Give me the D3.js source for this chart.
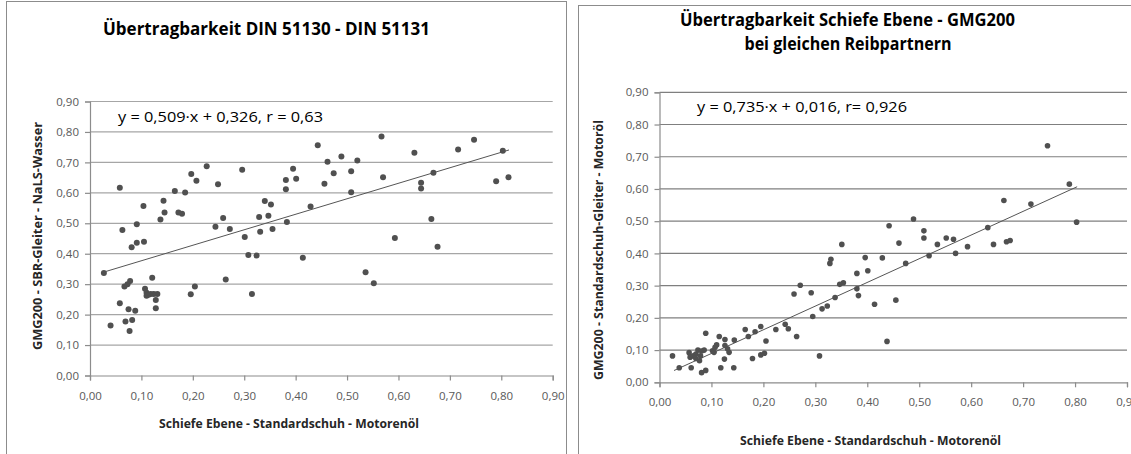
<!DOCTYPE html>
<html><head><meta charset="utf-8">
<script src="https://cdn.jsdelivr.net/npm/d3@7"></script>
<style>body{margin:0;background:#fff} svg{display:block}</style>
</head><body>
<svg id="c" width="1131" height="454"></svg>
<script>
// ---------- data ----------
const tickValues = [0, 0.1, 0.2, 0.3, 0.4, 0.5, 0.6, 0.7, 0.8, 0.9];
const tickLabels = ["0,00","0,10","0,20","0,30","0,40","0,50","0,60","0,70","0,80","0,90"];

const leftTitle = ["Übertragbarkeit DIN 51130 - DIN 51131"];
const leftXTitle = "Schiefe Ebene - Standardschuh - Motorenöl";
const leftYTitle = "GMG200 - SBR-Gleiter - NaLS-Wasser";
const leftEquation = "y = 0,509·x + 0,326, r = 0,63";
const leftFit = [0.509, 0.326];        // slope, intercept
const leftFitRange = [0.027, 0.815];
const leftX = [0.027,0.040,0.058,0.058,0.063,0.067,0.069,0.073,0.075,0.077,0.078,0.081,0.082,0.088,0.091,0.091,0.104,0.105,0.107,0.110,0.110,0.114,0.118,0.121,0.124,0.131,0.128,0.128,0.137,0.143,0.145,0.165,0.172,0.179,0.185,0.196,0.197,0.204,0.207,0.227,0.244,0.249,0.259,0.264,0.272,0.296,0.301,0.308,0.315,0.324,0.329,0.331,0.340,0.347,0.352,0.355,0.381,0.381,0.383,0.395,0.401,0.414,0.429,0.443,0.456,0.462,0.474,0.489,0.508,0.508,0.520,0.536,0.552,0.567,0.570,0.593,0.631,0.644,0.644,0.664,0.668,0.676,0.716,0.747,0.790,0.803,0.814];
const leftY = [0.337,0.164,0.617,0.237,0.478,0.292,0.177,0.300,0.218,0.146,0.310,0.421,0.182,0.213,0.497,0.436,0.557,0.439,0.285,0.272,0.262,0.265,0.268,0.321,0.268,0.268,0.248,0.221,0.512,0.574,0.535,0.606,0.535,0.531,0.601,0.267,0.662,0.292,0.640,0.687,0.489,0.628,0.517,0.315,0.481,0.676,0.455,0.396,0.268,0.394,0.521,0.472,0.573,0.525,0.562,0.481,0.642,0.612,0.504,0.679,0.646,0.387,0.555,0.756,0.630,0.702,0.664,0.719,0.671,0.602,0.706,0.339,0.303,0.785,0.651,0.452,0.732,0.633,0.614,0.514,0.666,0.423,0.742,0.774,0.638,0.738,0.651];

const rightTitle = ["Übertragbarkeit Schiefe Ebene - GMG200", "bei gleichen Reibpartnern"];
const rightXTitle = "Schiefe Ebene - Standardschuh - Motorenöl";
const rightYTitle = "GMG200 - Standardschuh-Gleiter - Motoröl";
const rightEquation = "y = 0,735·x + 0,016, r= 0,926";
const rightFit = [0.735, 0.016];
const rightFitRange = [0.028, 0.804];
const rightX = [0.025,0.038,0.057,0.059,0.061,0.065,0.070,0.070,0.074,0.077,0.079,0.081,0.081,0.086,0.089,0.089,0.102,0.105,0.107,0.110,0.115,0.118,0.125,0.126,0.126,0.131,0.134,0.143,0.144,0.165,0.171,0.179,0.184,0.195,0.195,0.202,0.205,0.224,0.242,0.248,0.259,0.264,0.271,0.292,0.295,0.308,0.313,0.323,0.328,0.330,0.338,0.347,0.354,0.351,0.380,0.380,0.383,0.396,0.401,0.414,0.429,0.438,0.442,0.455,0.461,0.474,0.489,0.509,0.509,0.519,0.535,0.552,0.566,0.570,0.593,0.632,0.643,0.663,0.668,0.675,0.715,0.747,0.789,0.803];
const rightY = [0.082,0.045,0.092,0.078,0.045,0.082,0.088,0.074,0.100,0.067,0.082,0.097,0.030,0.100,0.037,0.152,0.098,0.093,0.109,0.116,0.142,0.045,0.072,0.133,0.114,0.104,0.093,0.045,0.131,0.164,0.142,0.074,0.157,0.173,0.085,0.090,0.128,0.164,0.180,0.166,0.274,0.142,0.301,0.278,0.204,0.082,0.228,0.237,0.369,0.382,0.263,0.304,0.309,0.428,0.338,0.290,0.269,0.387,0.346,0.242,0.386,0.127,0.486,0.255,0.432,0.369,0.507,0.448,0.470,0.393,0.428,0.448,0.444,0.400,0.421,0.480,0.428,0.564,0.436,0.440,0.553,0.734,0.615,0.497];

// ---------- drawing ----------
const svg = d3.select("#c");
const FONT = "'Open Sans', 'Noto Sans', sans-serif";

function drawChart(o) {
  const g = svg.append("g");
  g.append("rect").attr("x", o.panel[0]).attr("y", o.panel[1])
    .attr("width", o.panel[2]).attr("height", o.panel[3])
    .attr("fill", "#fff").attr("stroke", "#8c8c8c").attr("stroke-width", 1);

  const x = d3.scaleLinear().domain([0, 0.9]).range([o.x0, o.x1]);
  const y = d3.scaleLinear().domain([0, 0.9]).range([o.y0, o.y1]);

  g.append("g").selectAll("line").data(tickValues.slice(1)).join("line")
    .attr("x1", o.x0).attr("x2", o.x1)
    .attr("y1", d => y(d)).attr("y2", d => y(d))
    .attr("stroke", o.grid).attr("stroke-width", 1.2);

  const fmt = (d, i) => tickLabels[i];
  const ax = g.append("g").attr("transform", `translate(0,${o.y0})`)
    .call(d3.axisBottom(x).tickValues(tickValues).tickFormat(fmt).tickSize(5).tickPadding(o.xPad));
  const ay = g.append("g").attr("transform", `translate(${o.x0},0)`)
    .call(d3.axisLeft(y).tickValues(tickValues).tickFormat(fmt).tickSize(5).tickPadding(6));
  [ax, ay].forEach(a => {
    a.select(".domain").attr("stroke", "#8c8c8c").attr("stroke-width", 1.2);
    a.selectAll(".tick line").attr("stroke", "#8c8c8c").attr("stroke-width", 1.2);
    a.selectAll(".tick text").attr("fill", "#595959").attr("font-family", FONT).attr("font-size", 11.5);
  });

  g.append("line")
    .attr("x1", x(o.fitRange[0])).attr("y1", y(o.fit[0] * o.fitRange[0] + o.fit[1]))
    .attr("x2", x(o.fitRange[1])).attr("y2", y(o.fit[0] * o.fitRange[1] + o.fit[1]))
    .attr("stroke", "#555").attr("stroke-width", 1);

  g.append("g").selectAll("circle").data(o.xs.map((v, i) => [v, o.ys[i]])).join("circle")
    .attr("cx", d => x(d[0])).attr("cy", d => y(d[1])).attr("r", o.r)
    .attr("fill", "#505050");

  o.title.forEach((t, i) => {
    g.append("text").attr("x", o.titlePos[i][0]).attr("y", o.titlePos[i][1])
      .attr("text-anchor", "middle").attr("font-family", FONT).attr("font-weight", "bold")
      .attr("font-size", 17).attr("fill", "#000")
      .attr("textLength", o.titlePos[i][2]).attr("lengthAdjust", "spacingAndGlyphs").text(t);
  });
  g.append("text").attr("x", o.eqPos[0]).attr("y", o.eqPos[1])
    .attr("font-family", FONT).attr("font-size", 15).attr("fill", "#000")
    .attr("textLength", o.eqPos[2]).attr("lengthAdjust", "spacingAndGlyphs").text(o.eq);
  g.append("text").attr("x", o.xtPos[0]).attr("y", o.xtPos[1]).attr("text-anchor", "middle")
    .attr("font-family", FONT).attr("font-weight", "bold").attr("font-size", 12).attr("fill", "#262626")
    .attr("textLength", o.xtPos[2]).attr("lengthAdjust", "spacingAndGlyphs").text(o.xt);
  g.append("text").attr("transform", `translate(${o.ytPos[0]},${o.ytPos[1]}) rotate(-90)`)
    .attr("text-anchor", "middle")
    .attr("font-family", FONT).attr("font-weight", "bold").attr("font-size", 12).attr("fill", "#262626")
    .attr("textLength", o.ytPos[2]).attr("lengthAdjust", "spacingAndGlyphs").text(o.yt);
}

drawChart({
  panel: [6.5, 1.5, 560, 470],
  x0: 90, x1: 552.7, y0: 375.5, y1: 101.5, grid: "#a6a6a6", r: 3, xPad: 11,
  xs: leftX, ys: leftY, fit: leftFit, fitRange: leftFitRange,
  title: leftTitle, titlePos: [[266.5, 35, 327]],
  eq: leftEquation, eqPos: [118, 122, 205],
  xt: leftXTitle, xtPos: [289, 428, 260],
  yt: leftYTitle, ytPos: [42, 236, 228]
});

drawChart({
  panel: [578.5, 5.5, 600, 470],
  x0: 659.5, x1: 1127, y0: 382.3, y1: 92.3, grid: "#7f7f7f", r: 2.8, xPad: 11,
  xs: rightX, ys: rightY, fit: rightFit, fitRange: rightFitRange,
  title: rightTitle, titlePos: [[847.5, 26, 335], [848, 50, 207]],
  eq: rightEquation, eqPos: [697, 112, 210],
  xt: rightXTitle, xtPos: [870.5, 445, 261],
  yt: rightYTitle, ytPos: [603, 250, 260]
});
</script>
</body></html>
